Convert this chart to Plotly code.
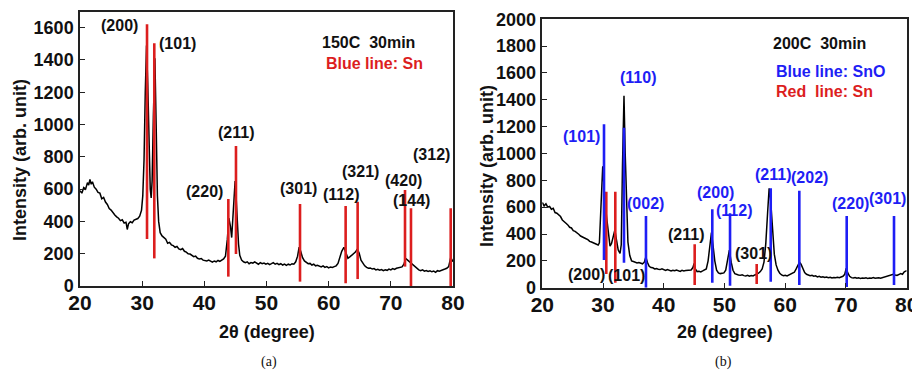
import plotly.graph_objects as go

# ---------------- Panel (a): 150C 30min ----------------
a_x = [20.0,20.3,20.6,20.9,21.2,21.4,21.6,21.8,22.0,22.3,22.6,22.9,23.2,23.5,23.8,24.1,24.4,24.7,25.0,25.3,
       25.6,25.9,26.2,26.5,26.8,27.1,27.4,27.6,27.8,28.1,28.4,28.7,29.0,29.3,29.6,29.9,30.1,30.3,30.5,30.7,
       30.9,31.1,31.3,31.45,31.6,31.8,32.05,32.25,32.45,32.65,32.9,33.2,33.5,33.8,34.1,34.4,34.7,35.0,35.3,35.6,
       35.9,36.2,36.5,36.8,37.1,37.4,37.7,38.0,38.3,38.6,38.9,39.2,39.5,39.8,40.1,40.4,40.7,41.0,41.3,41.6,
       41.9,42.2,42.5,42.8,43.1,43.4,43.7,43.95,44.2,44.4,44.6,44.8,44.95,45.1,45.3,45.5,45.7,46.0,46.3,46.6,
       46.9,47.2,47.5,47.8,48.1,48.4,48.7,49.0,49.3,49.6,49.9,50.2,50.5,50.8,51.1,51.4,51.7,52.0,52.3,52.6,
       52.9,53.2,53.5,53.8,54.1,54.4,54.7,55.0,55.25,55.5,55.8,56.1,56.4,56.7,57.0,57.3,57.6,57.9,58.2,58.5,
       58.8,59.1,59.4,59.7,60.0,60.3,60.6,60.9,61.2,61.5,61.8,62.1,62.45,62.8,63.1,63.4,63.7,64.0,64.3,64.6,
       64.9,65.2,65.5,65.8,66.1,66.4,66.7,67.0,67.3,67.6,67.9,68.2,68.5,68.8,69.1,69.4,69.7,70.0,70.3,70.6,
       70.9,71.2,71.5,71.8,72.1,72.4,72.7,73.0,73.3,73.6,73.9,74.2,74.5,74.8,75.1,75.4,75.7,76.0,76.3,76.6,
       76.9,77.2,77.5,77.8,78.1,78.4,78.7,79.0,79.3,79.6,79.8,80.0]
a_y = [590,575,610,600,640,625,660,630,645,612,600,580,575,540,548,520,505,480,470,452,
       440,428,420,405,410,390,395,350,385,398,392,408,412,418,432,470,560,780,1200,1490,
       1250,800,600,545,650,1050,1410,1000,560,400,330,310,300,290,265,270,255,250,240,245,
       230,225,232,215,210,200,198,190,182,185,172,168,170,160,158,155,160,152,148,155,
       150,158,152,160,168,185,290,420,370,300,420,580,650,560,380,260,190,160,150,145,
       150,138,145,142,150,140,135,145,138,142,135,140,132,138,145,135,140,132,138,130,
       136,128,135,130,138,135,150,185,240,215,175,155,145,138,140,130,135,125,128,122,
       118,125,115,120,112,118,115,120,125,140,175,215,240,200,172,180,190,195,210,228,
       205,160,140,125,115,110,112,105,108,100,104,98,102,95,100,97,105,100,108,103,
       110,112,115,118,135,170,160,150,140,130,115,105,100,95,100,92,96,90,94,88,
       92,85,95,92,98,100,105,110,120,170,165,150]

# Sn reference lines (a): position, lower end, upper end
a_ref_x = [30.78, 31.95, 43.86, 45.09, 55.39, 62.73, 64.66, 72.28, 73.24, 79.63]
a_ref_lo = [291, 171, 58, 198, 27, 17, 43, 120, 0, 0]
a_ref_hi = [1621, 1504, 539, 867, 508, 496, 522, 595, 481, 481]

a_lab_text = ["(200)", "(101)", "(211)", "(220)", "(301)", "(112)", "(321)", "(420)", "(144)", "(312)"]
a_lab_x = [26.43, 35.71, 45.09, 40.0, 55.1, 61.93, 65.04, 72.0, 73.34, 76.56]
a_lab_y = [1611, 1504, 950, 584, 605, 564, 708, 651, 527, 816]

# ---------------- Panel (b): 200C 30min ----------------
b_x = [20.0,20.3,20.6,20.9,21.2,21.5,21.8,22.1,22.4,22.7,23.0,23.3,23.6,23.9,24.2,24.5,24.8,25.1,25.4,25.7,
       26.0,26.3,26.6,26.9,27.2,27.5,27.8,28.1,28.4,28.7,29.0,29.2,29.4,29.6,29.8,29.95,30.1,30.3,30.6,30.9,
       31.15,31.4,31.7,31.95,32.2,32.5,32.8,33.0,33.2,33.45,33.65,33.9,34.1,34.4,34.7,35.0,35.3,35.6,35.9,36.2,
       36.5,36.8,37.05,37.3,37.6,37.9,38.2,38.5,38.8,39.1,39.4,39.7,40.0,40.3,40.6,40.9,41.2,41.5,41.8,42.1,
       42.4,42.7,43.0,43.3,43.6,43.9,44.2,44.5,44.8,45.0,45.2,45.5,45.8,46.1,46.4,46.7,47.0,47.3,47.6,47.85,
       48.1,48.4,48.7,49.0,49.3,49.6,49.9,50.2,50.5,50.8,51.1,51.4,51.7,52.0,52.3,52.6,52.9,53.2,53.5,53.8,
       54.1,54.4,54.7,55.0,55.3,55.6,55.9,56.2,56.5,56.8,57.1,57.35,57.6,57.9,58.2,58.5,58.8,59.1,59.4,59.7,
       60.0,60.3,60.6,60.9,61.2,61.5,61.8,62.1,62.35,62.6,62.9,63.2,63.5,63.8,64.1,64.4,64.7,65.0,65.3,65.6,
       65.9,66.2,66.5,66.8,67.1,67.4,67.7,68.0,68.3,68.6,68.9,69.2,69.5,69.8,70.05,70.3,70.6,70.9,71.2,71.5,
       71.8,72.1,72.4,72.7,73.0,73.3,73.6,73.9,74.2,74.5,74.8,75.1,75.4,75.7,76.0,76.3,76.6,76.9,77.2,77.5,
       77.8,78.1,78.4,78.7,79.0,79.3,79.6,80.0]
b_y = [635,610,625,600,605,585,592,560,555,540,530,505,495,480,468,450,445,425,420,405,
       398,385,380,372,365,358,345,340,335,328,320,318,335,560,800,905,800,650,520,380,
       310,330,400,430,360,280,255,320,900,1430,1000,560,340,240,200,195,190,185,188,180,
       178,190,230,190,160,150,148,140,142,138,135,140,132,128,135,130,125,130,126,132,
       128,122,130,125,128,130,135,132,150,180,140,120,122,118,125,130,140,200,300,410,
       320,200,130,110,105,108,110,130,210,280,190,130,105,98,95,92,96,90,88,92,
       85,90,88,95,100,108,120,140,190,330,560,740,650,420,250,170,130,108,95,90,
       92,88,95,98,105,115,140,175,190,175,140,112,100,95,90,92,85,88,80,85,
       78,82,76,80,75,78,72,76,74,78,75,80,85,100,145,110,85,75,72,76,
       70,74,68,72,70,74,68,72,70,75,70,72,74,70,75,78,80,85,90,98,
       100,95,92,98,105,100,118,127]

# SnO reference lines (b)
b_sno_x = [30.16, 33.45, 37.07, 47.99, 50.91, 57.61, 62.32, 70.12, 77.91]
b_sno_lo = [206, 186, 0, 37, 15, 45, 20, 5, 20]
b_sno_hi = [1218, 1192, 534, 584, 554, 741, 723, 534, 534]
# Sn reference lines (b)
b_sn_x = [30.54, 32.02, 45.09, 55.30]
b_sn_lo = [102, 37, 20, 28]
b_sn_hi = [715, 715, 323, 177]

b_sno_lab_text = ["(101)", "(110)", "(002)", "(200)", "(112)", "(211)", "(202)", "(220)", "(301)"]
b_sno_lab_x = [26.49, 35.71, 37.02, 48.44, 51.57, 57.93, 63.97, 70.67, 76.87]
b_sno_lab_y = [1125, 1568, 624, 708, 572, 847, 823, 629, 661]
b_sn_lab_text = ["(200)", "(101)", "(211)", "(301)"]
b_sn_lab_x = [27.31, 33.9, 43.66, 54.75]
b_sn_lab_y = [95, 89, 393, 256]

x_ticks = [20, 30, 40, 50, 60, 70, 80]
a_y_ticks = [0, 200, 400, 600, 800, 1000, 1200, 1400, 1600]
b_y_ticks = [0, 200, 400, 600, 800, 1000, 1200, 1400, 1600, 1800, 2000]

RED = "#DC1E1E"
BLUE = "#1E1EF5"
FONT = "Liberation Sans"
W, H = 920, 370
OFF = 8  # page body margin


def seg(xs, lo, hi):
    X, Y = [], []
    for x, a, b in zip(xs, lo, hi):
        X += [x, x, None]
        Y += [a, b, None]
    return X, Y


fig = go.Figure()
fig.add_trace(go.Scatter(x=a_x, y=a_y, mode="lines", line=dict(color="black", width=1.5),
                         xaxis="x", yaxis="y", showlegend=False))
X, Y = seg(a_ref_x, a_ref_lo, a_ref_hi)
fig.add_trace(go.Scatter(x=X, y=Y, mode="lines", line=dict(color=RED, width=2.6),
                         xaxis="x", yaxis="y", showlegend=False))

fig.add_trace(go.Scatter(x=b_x, y=b_y, mode="lines", line=dict(color="black", width=1.5),
                         xaxis="x2", yaxis="y2", showlegend=False))
X, Y = seg(b_sn_x, b_sn_lo, b_sn_hi)
fig.add_trace(go.Scatter(x=X, y=Y, mode="lines", line=dict(color=RED, width=2.6),
                         xaxis="x2", yaxis="y2", showlegend=False))
X, Y = seg(b_sno_x, b_sno_lo, b_sno_hi)
fig.add_trace(go.Scatter(x=X, y=Y, mode="lines", line=dict(color=BLUE, width=2.6),
                         xaxis="x2", yaxis="y2", showlegend=False))


def px_x(p):
    return (p - OFF) / W


def px_y(p):
    return 1 - (p - OFF) / H


axis_common = dict(showline=True, linecolor="#222", linewidth=1.5, mirror=True, ticks="inside",
                   ticklen=5, tickwidth=1.3, tickcolor="#222", showgrid=False, zeroline=False,
                   automargin=False)

fig.update_layout(
    template="none",
    width=W, height=H, margin=dict(l=0, r=0, t=0, b=0, pad=0, autoexpand=False),
    paper_bgcolor="white", plot_bgcolor="white",
    font=dict(family=FONT, color="#111"),
    xaxis=dict(domain=[px_x(80), px_x(453)], range=[20, 80], tickvals=x_ticks,
               tickfont=dict(size=21, weight="bold", family=FONT), anchor="y",
               ticklabelstandoff=-3, **axis_common),
    yaxis=dict(domain=[px_y(286), px_y(11.5)], range=[0, 1700], tickvals=a_y_ticks,
               tickfont=dict(size=18, weight="bold", family=FONT), anchor="x",
               ticklabelstandoff=1, **axis_common),
    xaxis2=dict(domain=[px_x(542.3), px_x(906.7)], range=[20, 80], tickvals=x_ticks,
                tickfont=dict(size=21, weight="bold", family=FONT), anchor="y2",
                ticklabelstandoff=-3, **axis_common),
    yaxis2=dict(domain=[px_y(287.7), px_y(19.3)], range=[0, 2000], tickvals=b_y_ticks,
                tickfont=dict(size=18, weight="bold", family=FONT), anchor="x2",
                ticklabelstandoff=1, **axis_common),
)

ann = []
C = dict(showarrow=False, xanchor="center", yanchor="middle")
lab_font = dict(family=FONT, size=16, weight="bold", color="#111")
for t, x, y in zip(a_lab_text, a_lab_x, a_lab_y):
    ann.append(dict(text=t, x=x, y=y, xref="x", yref="y", font=lab_font, **C))
for t, x, y in zip(b_sno_lab_text, b_sno_lab_x, b_sno_lab_y):
    ann.append(dict(text=t, x=x, y=y, xref="x2", yref="y2", font=dict(lab_font, color=BLUE), **C))
for t, x, y in zip(b_sn_lab_text, b_sn_lab_x, b_sn_lab_y):
    ann.append(dict(text=t, x=x, y=y, xref="x2", yref="y2", font=lab_font, **C))

ann.append(dict(text="150C\u00a0\u00a030min", x=66.4, y=1508, xref="x", yref="y", font=lab_font, **C))
ann.append(dict(text="Blue line: Sn", x=67.3, y=1375, xref="x", yref="y",
                font=dict(lab_font, color=RED), **C))
ann.append(dict(text="200C\u00a0\u00a030min", x=65.72, y=1821, xref="x2", yref="y2", font=lab_font, **C))
ann.append(dict(text="Blue line: SnO", x=58.15, y=1610, xref="x2", yref="y2", showarrow=False,
                xanchor="left", yanchor="middle", font=dict(lab_font, color=BLUE)))
ann.append(dict(text="Red\u00a0\u00a0line: Sn", x=58.15, y=1460, xref="x2", yref="y2", showarrow=False,
                xanchor="left", yanchor="middle", font=dict(lab_font, color=RED)))

title_font = dict(family=FONT, size=18, weight="bold", color="#111")
ann.append(dict(text="2θ (degree)", x=px_x(266.5), y=px_y(332), xref="paper", yref="paper",
                font=title_font, **C))
ann.append(dict(text="2θ (degree)", x=px_x(724.5), y=px_y(332), xref="paper", yref="paper",
                font=title_font, **C))
ann.append(dict(text="Intensity (arb. unit)", x=px_x(20), y=px_y(160), xref="paper", yref="paper",
                textangle=-90, font=title_font, **C))
ann.append(dict(text="Intensity (arb. unit)", x=px_x(487), y=px_y(166), xref="paper", yref="paper",
                textangle=-90, font=title_font, **C))
sub_font = dict(family="Liberation Serif", size=14, color="#111")
ann.append(dict(text="(a)", x=px_x(269), y=px_y(362), xref="paper", yref="paper", font=sub_font, **C))
ann.append(dict(text="(b)", x=px_x(723), y=px_y(362), xref="paper", yref="paper", font=sub_font, **C))

fig.update_layout(annotations=ann)
fig.write_html("out.html")
